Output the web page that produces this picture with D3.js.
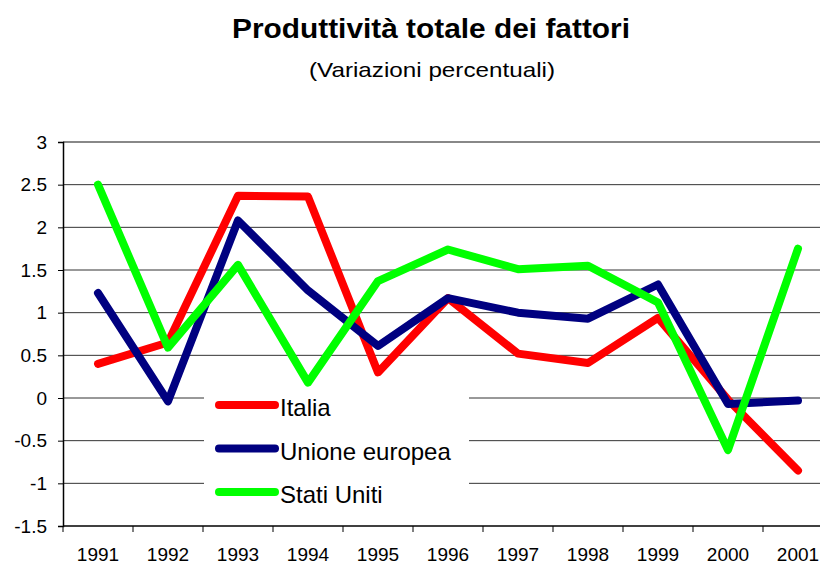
<!DOCTYPE html>
<html>
<head>
<meta charset="utf-8">
<script src="https://cdn.jsdelivr.net/npm/d3@7"></script>
<style>
  body { margin: 0; background: #fff; }
  svg { display: block; font-family: "Liberation Sans", Arial, sans-serif; }
</style>
</head>
<body>
<div id="chart"></div>
<script>
// Data
const years = ["1991", "1992", "1993", "1994", "1995", "1996", "1997", "1998", "1999", "2000", "2001"];
const italia = [0.40, 0.65, 2.37, 2.36, 0.30, 1.17, 0.52, 0.41, 0.94, -0.02, -0.85];
const unioneEuropea = [1.23, -0.04, 2.08, 1.26, 0.61, 1.17, 1.00, 0.93, 1.33, -0.07, -0.03];
const statiUniti = [2.50, 0.59, 1.56, 0.18, 1.37, 1.74, 1.51, 1.55, 1.12, -0.61, 1.75];
const yTicks = [3, 2.5, 2, 1.5, 1, 0.5, 0, -0.5, -1, -1.5];

const series = [
  { name: "Italia", values: italia, color: "#ff0000" },
  { name: "Unione europea", values: unioneEuropea, color: "#000080" },
  { name: "Stati Uniti", values: statiUniti, color: "#00ff00" }
];

const width = 820, height = 565;
const plotLeft = 63, plotTop = 142, plotBottom = 526, plotRight = 833;
const font = "'Liberation Sans', Arial, sans-serif";

const svg = d3.select("#chart").append("svg")
  .attr("width", width)
  .attr("height", height);

const x = d3.scaleBand().domain(years).range([plotLeft, plotRight]).padding(0);
const y = d3.scaleLinear().domain([-1.5, 3]).range([plotBottom, plotTop]);
const cx = d => x(d) + x.bandwidth() / 2;

// Title
svg.append("text")
  .attr("x", 431).attr("y", 38)
  .attr("text-anchor", "middle")
  .attr("font-family", font)
  .attr("font-size", 27).attr("font-weight", "bold")
  .attr("textLength", 398).attr("lengthAdjust", "spacingAndGlyphs")
  .text("Produttività totale dei fattori");

svg.append("text")
  .attr("x", 432).attr("y", 77)
  .attr("text-anchor", "middle")
  .attr("font-family", font)
  .attr("font-size", 21)
  .attr("textLength", 246).attr("lengthAdjust", "spacingAndGlyphs")
  .text("(Variazioni percentuali)");

// Gridlines
svg.append("g")
  .selectAll("line")
  .data(yTicks.filter(d => d !== -1.5))
  .join("line")
  .attr("x1", plotLeft).attr("x2", width)
  .attr("y1", d => y(d)).attr("y2", d => y(d))
  .attr("stroke", d => d === 3 ? "#888" : "#333")
  .attr("stroke-width", d => d === 3 ? 2 : 1);

// Y axis
const yAxis = svg.append("g")
  .attr("transform", `translate(${plotLeft},0)`)
  .call(d3.axisLeft(y).tickValues(yTicks).tickSize(5).tickPadding(11).tickFormat(d => String(d)));
yAxis.select(".domain").attr("stroke", "#000").attr("stroke-width", 1.5);
yAxis.selectAll(".tick line").attr("stroke", "#000");
yAxis.selectAll("text").attr("font-size", 19).attr("fill", "#000").attr("font-family", font);

// X axis: labels centred in each category, ticks between categories
const xAxis = svg.append("g")
  .attr("transform", `translate(0,${plotBottom})`)
  .call(d3.axisBottom(x).tickSize(0).tickPadding(22));
xAxis.select(".domain").remove();
xAxis.selectAll("text").attr("font-size", 19).attr("fill", "#000").attr("font-family", font);

svg.append("line")
  .attr("x1", plotLeft).attr("x2", width)
  .attr("y1", plotBottom).attr("y2", plotBottom)
  .attr("stroke", "#000").attr("stroke-width", 1.5);

svg.append("g")
  .selectAll("line")
  .data(years)
  .join("line")
  .attr("x1", d => x(d)).attr("x2", d => x(d))
  .attr("y1", plotBottom).attr("y2", plotBottom + 6)
  .attr("stroke", "#000");

// Lines
const line = d3.line()
  .x((d, i) => cx(years[i]))
  .y(d => y(d));

svg.append("g")
  .selectAll("path")
  .data(series)
  .join("path")
  .attr("d", d => line(d.values))
  .attr("fill", "none")
  .attr("stroke", d => d.color)
  .attr("stroke-width", 8)
  .attr("stroke-linejoin", "round")
  .attr("stroke-linecap", "round");

// Legend
const legend = svg.append("g");
legend.append("rect")
  .attr("x", 204).attr("y", 388)
  .attr("width", 265).attr("height", 128)
  .attr("fill", "#fff");

const item = legend.selectAll("g.item")
  .data(series)
  .join("g")
  .attr("class", "item")
  .attr("transform", (d, i) => `translate(0,${405 + i * 43.5})`);

item.append("line")
  .attr("x1", 219).attr("x2", 275)
  .attr("y1", 0).attr("y2", 0)
  .attr("stroke", d => d.color)
  .attr("stroke-width", 8)
  .attr("stroke-linecap", "round");

item.append("text")
  .attr("x", 280).attr("y", 11)
  .attr("font-size", 24)
  .attr("font-family", font)
  .text(d => d.name);
</script>
</body>
</html>
